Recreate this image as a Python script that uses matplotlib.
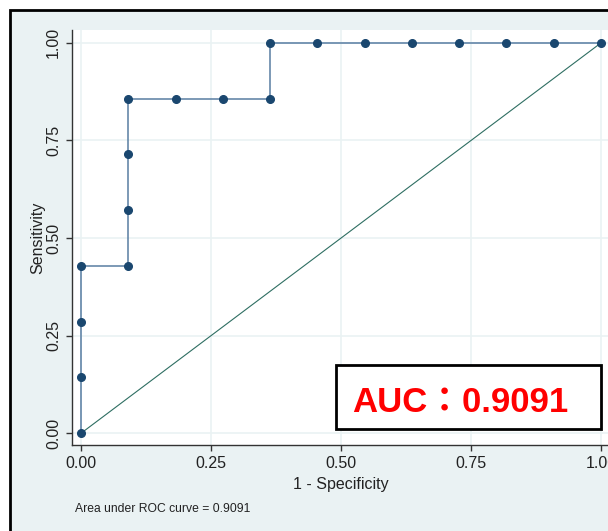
import matplotlib
matplotlib.use("Agg")
import matplotlib.pyplot as plt
from matplotlib.patches import Rectangle

# точки ROC-кривой (1 - специфичность, чувствительность)
fpr = [0.0, 0.0, 0.0, 0.0, 0.0909, 0.0909, 0.0909, 0.0909, 0.1818, 0.2727,
       0.3636, 0.3636, 0.4545, 0.5455, 0.6364, 0.7273, 0.8182, 0.9091, 1.0]
tpr = [0.0, 0.1429, 0.2857, 0.4286, 0.4286, 0.5714, 0.7143, 0.8571, 0.8571, 0.8571,
       0.8571, 1.0, 1.0, 1.0, 1.0, 1.0, 1.0, 1.0, 1.0]
ref_line = [0.0, 1.0]
ticks = [0.0, 0.25, 0.5, 0.75, 1.0]
tick_labels = ["0.00", "0.25", "0.50", "0.75", "1.00"]
auc = 0.9091

font = ["Liberation Sans", "DejaVu Sans"]
W, H = 608, 531

fig = plt.figure(figsize=(W / 100, H / 100), dpi=100)
fig.patch.set_facecolor("white")

# фон графика в стиле Stata с чёрной рамкой
fig.patches.append(Rectangle((10 / W, -0.2), 1.2, 1 - 10 / H + 0.2,
                             transform=fig.transFigure, facecolor="#eaf2f3",
                             edgecolor="black", linewidth=2, zorder=-5))

ax = fig.add_axes([72 / W, 1 - 445 / H, 538 / W, 415 / H])
ax.set_zorder(1)
ax.set_facecolor("white")
ax.set_xlim(-0.0173, 1.0173)
ax.set_ylim(-0.03, 1.033)

for t in ticks:
    ax.axhline(t, color="#eaf2f3", lw=1.2, zorder=0)
    ax.axvline(t, color="#eaf2f3", lw=1.2, zorder=0)

ax.plot(ref_line, ref_line, color="#2e6e62", lw=0.8, zorder=2)
ax.plot(fpr, tpr, color="#587da2", lw=1.1, marker="o", markersize=5.5,
        markerfacecolor="#1a476f", markeredgecolor="#1a476f", zorder=3)

for s in ["top", "right"]:
    ax.spines[s].set_visible(False)
for s in ["left", "bottom"]:
    ax.spines[s].set_color("#333333")
    ax.spines[s].set_linewidth(1)

ax.set_xticks(ticks)
ax.set_xticklabels(tick_labels, family=font, fontsize=11.5, color="#222222")
ax.set_yticks(ticks)
ax.set_yticklabels(tick_labels, family=font, fontsize=11.5, color="#222222",
                   rotation=90, va="center")
ax.tick_params(direction="out", length=4, width=1, color="#333333", pad=4)

ax.set_xlabel("1 - Specificity", family=font, fontsize=11.5, color="#222222")
ax.xaxis.set_label_coords(0.5, -0.094)
ax.set_ylabel("Sensitivity", family=font, fontsize=11.5, color="#222222")
ax.yaxis.set_label_coords(-0.063, 0.5)
ax.xaxis.label.set_va("center")
ax.yaxis.label.set_va("center")

fig.text(75 / W, 1 - 512 / H, "Area under ROC curve = %.4f" % auc,
         family=font, fontsize=8.7, color="#222222")

# рамка с AUC
ax.add_patch(Rectangle((0.49, 0.01), 0.51, 0.164, facecolor="white",
                       edgecolor="black", linewidth=2, zorder=5))
ax.text(0.73, 0.054, "AUC：%.4f" % auc, color="red", fontsize=25,
        fontweight="bold", family=["Liberation Sans", "Noto Sans CJK TC"],
        ha="center", va="baseline", zorder=6)

fig.savefig("out.png", dpi=100)
